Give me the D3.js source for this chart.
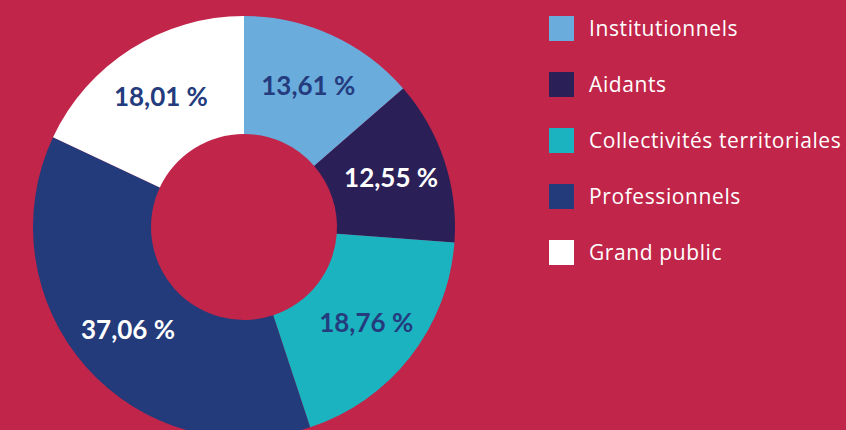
<!DOCTYPE html>
<html>
<head>
<meta charset="utf-8">
<script src="https://cdn.jsdelivr.net/npm/d3@7"></script>
<style>
    html, body { margin: 0; padding: 0; background: #c1254a; }
    svg { display: block; font-family: "Lato", "Open Sans", sans-serif; }
</style>
</head>
<body>
<div class="chart-container"></div>
<script>
// Chart data
const categories = ['Institutionnels', 'Aidants', 'Collectivités territoriales', 'Professionnels', 'Grand public'];
const shares = [13.61, 12.55, 18.76, 37.06, 18.01];
const sliceColors = ['#6aacdc', '#2a1f57', '#1bb3c0', '#233a7b', '#ffffff'];
const labelColors = ['#243b7d', '#ffffff', '#243b7d', '#ffffff', '#243b7d'];

// Chart params
const width = 846;
const height = 430;
const cx = 244;
const cy = 227;
const outerRadius = 211;
const innerRadius = 93;
const labelRadius = 155;

// Format value as french percentage
function formatShare(v) {
    return v.toFixed(2).replace('.', ',') + ' %';
}

function drawChart() {

    var svg = d3.select('.chart-container')
        .append('svg')
        .attr('width', width)
        .attr('height', height);

    svg.append('rect')
        .attr('width', width)
        .attr('height', height)
        .attr('fill', '#c1254a');

    var color = d3.scaleOrdinal()
        .domain(categories)
        .range(sliceColors);

    var textColor = d3.scaleOrdinal()
        .domain(categories)
        .range(labelColors);

    var pie = d3.pie()
        .sort(null)
        .value(d => d.value);

    var data = categories.map((c, i) => ({ name: c, value: shares[i] }));
    var arcs = pie(data);

    var arc = d3.arc()
        .innerRadius(innerRadius)
        .outerRadius(outerRadius);

    var labelArc = d3.arc()
        .innerRadius(labelRadius)
        .outerRadius(labelRadius);

    var g = svg.append('g')
        .attr('transform', `translate(${cx},${cy})`);

    // Slices
    g.selectAll('path')
        .data(arcs)
        .enter()
        .append('path')
        .attr('d', arc)
        .attr('fill', d => color(d.data.name));

    // Percent labels
    g.selectAll('.slice-label')
        .data(arcs)
        .enter()
        .append('text')
        .attr('class', 'slice-label')
        .attr('transform', d => `translate(${labelArc.centroid(d)})`)
        .attr('text-anchor', 'middle')
        .attr('dy', '0.36em')
        .attr('font-size', 26)
        .attr('font-weight', 700)
        .attr('fill', d => textColor(d.data.name))
        .text(d => formatShare(d.data.value));

    // Legend
    var legend = svg.append('g')
        .attr('transform', 'translate(549,16)');

    var item = legend.selectAll('.legend-item')
        .data(categories)
        .enter()
        .append('g')
        .attr('class', 'legend-item')
        .attr('transform', (d, i) => `translate(0,${i * 56})`);

    item.append('rect')
        .attr('width', 25)
        .attr('height', 25)
        .attr('fill', d => color(d));

    item.append('text')
        .attr('x', 40)
        .attr('y', 20)
        .attr('font-family', '"Open Sans", sans-serif')
        .attr('font-size', 21)
        .attr('letter-spacing', 0.6)
        .attr('fill', '#ffffff')
        .text(d => d);
}

drawChart();
</script>
</body>
</html>
